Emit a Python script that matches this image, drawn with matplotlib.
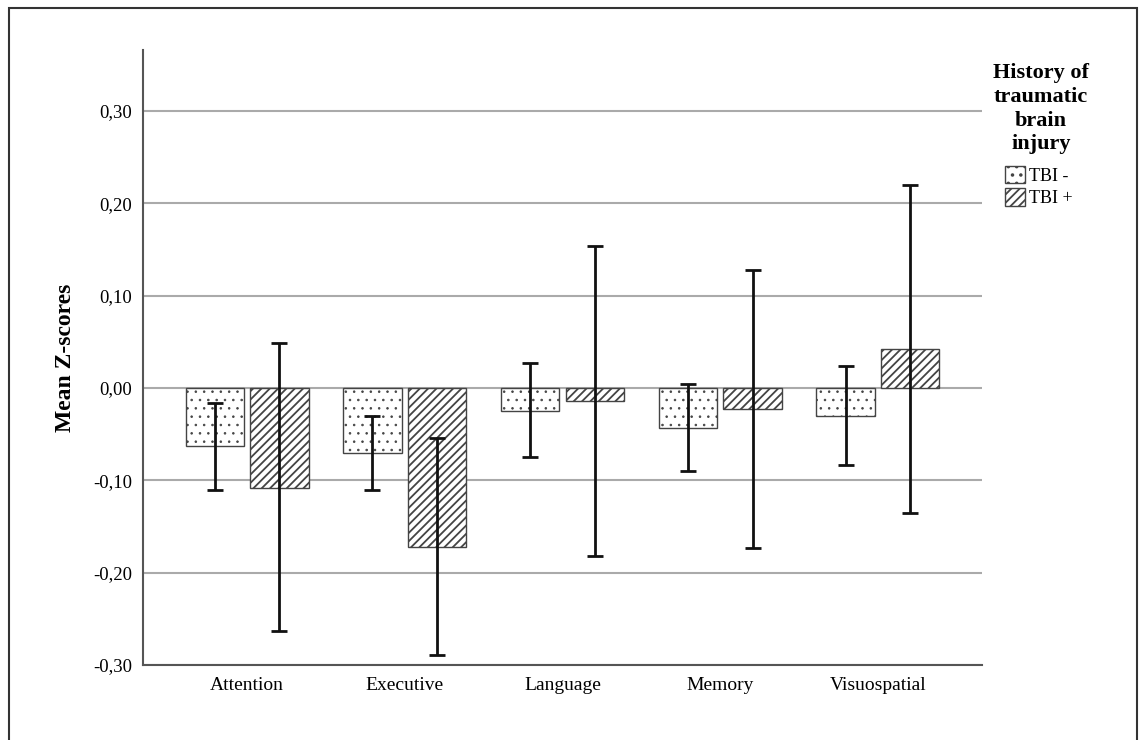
import matplotlib.pyplot as plt
import numpy as np
from matplotlib.patches import Rectangle
from matplotlib.ticker import FuncFormatter

plt.rcParams['font.family'] = ['Liberation Serif', 'DejaVu Serif']
plt.rcParams['hatch.linewidth'] = 1.3

domains = ['Attention', 'Executive', 'Language', 'Memory', 'Visuospatial']
groups = ['TBI -', 'TBI +']

# mean z-scores and 95% CI bounds
tbi_neg_mean = [-0.063, -0.070, -0.025, -0.043, -0.030]
tbi_neg_low = [-0.111, -0.110, -0.075, -0.090, -0.083]
tbi_neg_high = [-0.016, -0.030, 0.027, 0.004, 0.024]

tbi_pos_mean = [-0.108, -0.172, -0.014, -0.023, 0.042]
tbi_pos_low = [-0.263, -0.289, -0.182, -0.173, -0.135]
tbi_pos_high = [0.049, -0.054, 0.154, 0.128, 0.220]

fig = plt.figure(figsize=(11.43, 7.40), dpi=100)
ax = fig.add_axes([143 / 1143, 1 - 665 / 740, (982 - 143) / 1143, (665 - 50) / 740])

x = np.arange(len(domains))
w = 0.37
off = 0.205

series = [
    (tbi_neg_mean, tbi_neg_low, tbi_neg_high, '..', -off, 0.6),
    (tbi_pos_mean, tbi_pos_low, tbi_pos_high, '////', off, 1.3),
]
for (m, lo, hi, hatch, dx, hlw), label in zip(series, groups):
    m = np.array(m)
    bars = ax.bar(x + dx, m, width=w, color='white', edgecolor='#444444', hatch=hatch,
                  linewidth=1.0, label=label, zorder=3)
    for b in bars:
        if hasattr(b, 'set_hatch_linewidth'):
            b.set_hatch_linewidth(hlw)
    yerr = [m - np.array(lo), np.array(hi) - m]
    ax.errorbar(x + dx, m, yerr=yerr, fmt='none', ecolor='#111111', elinewidth=2,
                capsize=6, capthick=2, zorder=4)

ax.set_xlim(-0.66, 4.66)
ax.set_ylim(-0.30, 0.366)
ax.set_yticks([-0.3, -0.2, -0.1, 0.0, 0.1, 0.2, 0.3])
ax.yaxis.set_major_formatter(FuncFormatter(lambda v, p: f'{v:.2f}'.replace('.', ',')))
ax.set_xticks(x)
ax.set_xticklabels(domains)
ax.tick_params(axis='y', length=0, labelsize=13.5, pad=8)
ax.tick_params(axis='x', length=0, labelsize=14, pad=9)
ax.grid(axis='y', color='#aaaaaa', linewidth=1.5, zorder=0)
ax.set_axisbelow(True)
for s in ['top', 'right']:
    ax.spines[s].set_visible(False)
for s in ['left', 'bottom']:
    ax.spines[s].set_color('#555555')
    ax.spines[s].set_linewidth(1.5)
ax.set_ylabel('Mean Z-scores', fontsize=17, fontweight='bold', labelpad=12)

fig.text(1041 / 1143, 1 - 63 / 740, 'History of\ntraumatic\nbrain\ninjury',
         ha='center', va='top', fontsize=16, fontweight='bold', linespacing=1.25)
leg = fig.legend(loc='upper center', bbox_to_anchor=(1039 / 1143, 1 - 157 / 740),
                 frameon=False, fontsize=13, handlelength=1.1, handleheight=1.1,
                 handletextpad=0.25, labelspacing=0.2, borderpad=0)

fig.patches.append(Rectangle((9 / 1143, -0.01), (1137 - 9) / 1143, 1.01 - 8 / 740,
                             transform=fig.transFigure, fill=False,
                             edgecolor='#333333', linewidth=1.5))

fig.savefig('out.png', dpi=100)
